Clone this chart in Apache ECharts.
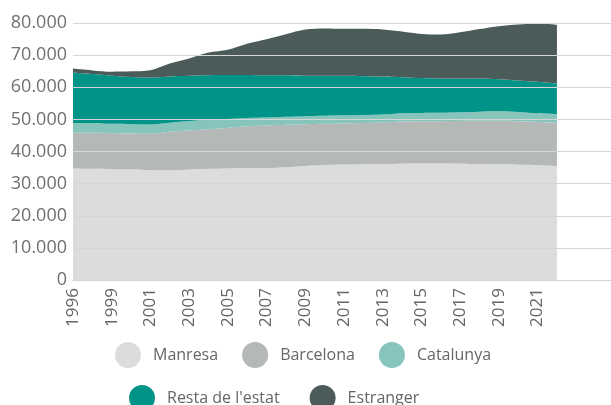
<!DOCTYPE html>
<html>
<head>
<meta charset="utf-8">
<script src="https://cdn.jsdelivr.net/npm/echarts@6/dist/echarts.min.js"></script>
<style>html,body{margin:0;padding:0;background:#fff}#c{width:611px;height:405px}</style>
</head>
<body>
<div id="c"></div>
<script>
const years = ['1996','1998','1999','2000','2001','2002','2003','2004','2005','2006','2007','2008','2009','2010','2011','2012','2013','2014','2015','2016','2017','2018','2019','2020','2021','2022'];
const manresa   = [34700,34600,34500,34400,34200,34150,34400,34600,34700,34750,34800,35100,35500,35800,35950,36050,36100,36200,36250,36250,36200,36100,36000,35900,35800,35400];
const barcelona = [11100,11200,11200,11200,11300,12000,12100,12300,12700,13100,13300,13200,13000,12850,12800,12800,12900,13100,13150,13200,13300,13450,13550,13500,13400,13500];
const catalunya = [3100,3000,2900,2900,2900,2800,3000,3000,2750,2600,2500,2500,2500,2500,2500,2500,2500,2600,2600,2600,2700,2850,2950,2900,2700,2700];
const resta     = [15600,15300,15000,14700,14600,14400,14100,13850,13650,13400,13100,12900,12600,12450,12300,12100,11850,11250,10900,10700,10550,10300,10000,9800,9800,9600];
const estranger = [1300,1150,1250,1750,2300,4050,5350,7050,7900,9700,11250,12800,14350,14700,14650,14750,14650,14200,13650,13650,14350,15400,16500,17450,18250,18250];
const names = ['Manresa','Barcelona','Catalunya',"Resta de l'estat",'Estranger'];
const colors = ['#dcdcdc','#b4b9b8','#86c4bc','#009489','#4b5b59'];
const padCats = ['','',''];

const fontFam = '"Open Sans", sans-serif';
const chart = echarts.init(document.getElementById('c'), null, {renderer:'canvas'});
const seriesData = [manresa, barcelona, catalunya, resta, estranger];
const legendText = {fontFamily: fontFam, fontSize: 16, color: '#666', padding: [0,0,0,7]};
chart.setOption({
  animation: false,
  color: colors,
  grid: {left: 73, width: 542, top: 23, height: 257, containLabel: false, outerBoundsMode: 'none'},
  legend: [
    {data: names.slice(0,3), left: 115, top: 342, padding: 0, icon: 'circle', itemWidth: 26, itemHeight: 26, itemGap: 24, textStyle: legendText},
    {data: names.slice(3), left: 129, top: 385, padding: 0, icon: 'circle', itemWidth: 26, itemHeight: 26, itemGap: 30, textStyle: legendText}
  ],
  xAxis: {
    type: 'category', boundaryGap: false, data: years.concat(padCats),
    axisLine: {show: true, lineStyle: {color: '#d4d4d4', width: 1}},
    axisTick: {show: false},
    axisLabel: {interval: 1, rotate: 90, margin: 8, fontFamily: fontFam, fontSize: 17, color: '#666'},
    z: 10
  },
  yAxis: {
    type: 'value', min: 0, max: 80000, interval: 10000,
    axisLine: {show: false}, axisTick: {show: false},
    axisLabel: {margin: 6, fontFamily: fontFam, fontSize: 18, color: '#707070',
      formatter: v => v === 0 ? '0' : String(v).replace(/\B(?=(\d{3})+(?!\d))/g, '.')},
    splitLine: {lineStyle: {color: '#d6d6d6', width: 1.2}},
    z: 10
  },
  series: seriesData.map((d, i) => ({
    name: names[i], type: 'line', stack: 'total', data: d,
    smooth: 0.3, showSymbol: false, symbol: 'none',
    lineStyle: {width: 0},
    areaStyle: {color: colors[i], opacity: 1},
    itemStyle: {color: colors[i]},
    z: 2
  }))
});
</script>
</body>
</html>
